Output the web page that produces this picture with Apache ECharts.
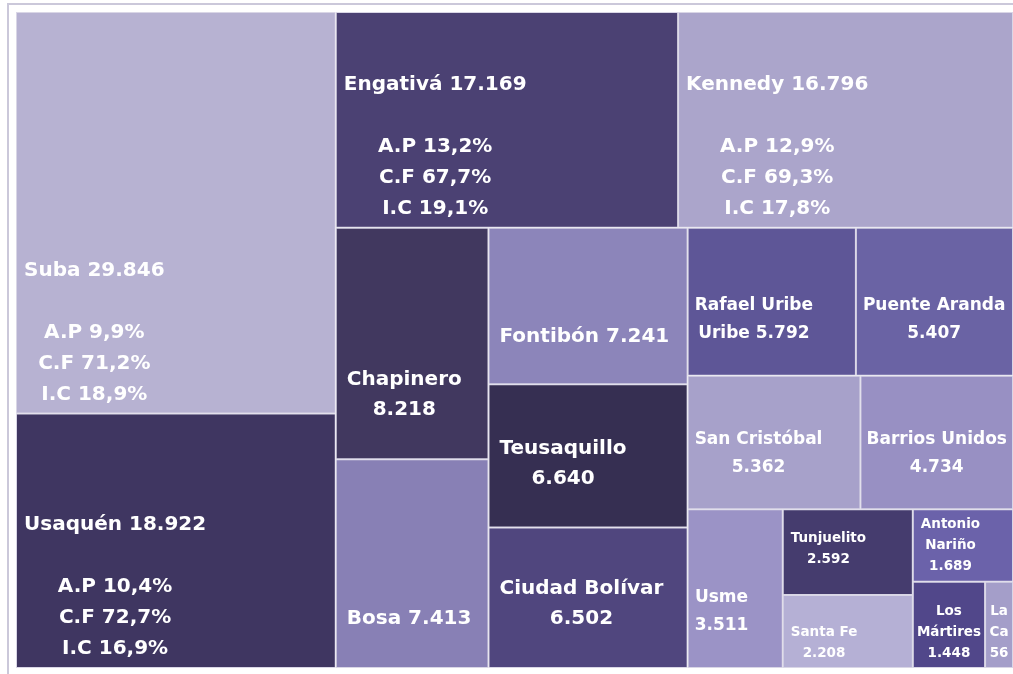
<!DOCTYPE html>
<html>
<head>
<meta charset="utf-8">
<title>Localidades</title>
<script src="https://cdn.jsdelivr.net/npm/echarts@6/dist/echarts.min.js"></script>
<style>
  html, body { margin: 0; padding: 0; background: #fff; }
  #chart { width: 1013px; height: 674px; }
</style>
</head>
<body>
<div id="chart"></div>
<script>
// Localidades y total por localidad
const localidades = ['Suba', 'Usaquén', 'Engativá', 'Kennedy', 'Chapinero', 'Bosa', 'Fontibón',
  'Teusaquillo', 'Ciudad Bolívar', 'Rafael Uribe Uribe', 'Puente Aranda', 'San Cristóbal',
  'Barrios Unidos', 'Usme', 'Tunjuelito', 'Santa Fe', 'Antonio Nariño', 'Los Mártires', 'La Candelaria']
const totales = [29846, 18922, 17169, 16796, 8218, 7413, 7241, 6640, 6502, 5792, 5407, 5362,
  4734, 3511, 2592, 2208, 1689, 1448, 560]

// Detalle A.P / C.F / I.C (solo las cuatro mayores)
const detalleLocalidades = ['Suba', 'Usaquén', 'Engativá', 'Kennedy']
const pctAP = [9.9, 10.4, 13.2, 12.9]
const pctCF = [71.2, 72.7, 67.7, 69.3]
const pctIC = [18.9, 16.9, 19.1, 17.8]

/** Colores de cada recuadro */
const colores = {
  'Suba': '#b7b2d2', 'Usaquén': '#3f3661', 'Engativá': '#4b4173', 'Kennedy': '#aba5cb',
  'Chapinero': '#41385f', 'Bosa': '#8880b5', 'Fontibón': '#8c85ba', 'Teusaquillo': '#362f52',
  'Ciudad Bolívar': '#50467e', 'Rafael Uribe Uribe': '#5e5697', 'Puente Aranda': '#6a63a4',
  'San Cristóbal': '#a7a1ca', 'Barrios Unidos': '#9890c3', 'Usme': '#9b93c6',
  'Tunjuelito': '#453c6e', 'Santa Fe': '#b5b0d5', 'Antonio Nariño': '#6b62aa',
  'Los Mártires': '#51478a', 'La Candelaria': '#a49ec9'
}

/** Agrupación (índices) para que el squarify reparta los bloques como en el original */
const bloques = [0, 1, [[2, 3], [[4, 5], [[6, 7, 8], [9, 10, [[11, 12], [13, 14, 15, 16, 17, 18]]]]]]]

/** Cortes de línea de cada etiqueta (%v = total) */
const plantillas = {
  'Chapinero': 'Chapinero\n%v', 'Bosa': 'Bosa %v', 'Fontibón': 'Fontibón %v',
  'Teusaquillo': 'Teusaquillo\n%v', 'Ciudad Bolívar': 'Ciudad Bolívar\n%v',
  'Rafael Uribe Uribe': 'Rafael Uribe\nUribe %v', 'Puente Aranda': 'Puente Aranda\n%v',
  'San Cristóbal': 'San Cristóbal\n%v', 'Barrios Unidos': 'Barrios Unidos\n%v', 'Usme': 'Usme\n%v',
  'Tunjuelito': 'Tunjuelito\n%v', 'Santa Fe': 'Santa Fe\n%v', 'Antonio Nariño': 'Antonio\nNariño\n%v',
  'Los Mártires': 'Los\nMártires\n%v', 'La Candelaria': 'La\nCandelaria\n%v'
}

/** Tamaños de etiqueta */
const clases = {
  g: { size: 20, lh: 31, pad: 7, bottom: 18 },
  m: { size: 20, lh: 30, pad: 10, bottom: 48 },
  p: { size: 17, lh: 28, pad: 6, bottom: 41 },
  xs: { size: 13.5, lh: 21, pad: 7, bottom: 14 }
}
const claseDe = name => {
  if (detalleLocalidades.includes(name)) return 'g'
  if (['Chapinero', 'Bosa', 'Fontibón', 'Teusaquillo', 'Ciudad Bolívar'].includes(name)) return 'm'
  if (['Rafael Uribe Uribe', 'Puente Aranda', 'San Cristóbal', 'Barrios Unidos', 'Usme'].includes(name)) return 'p'
  return 'xs'
}
const ajusteInferior = { 'Tunjuelito': 34, 'Fontibón': 46 }

const FUENTE = 'DejaVu Sans'
const ctx = document.createElement('canvas').getContext('2d')
function anchoTexto(txt, size) {
  ctx.font = `bold ${size}px ${FUENTE}`
  return ctx.measureText(txt).width
}

const miles = v => String(v).replace(/\B(?=(\d{3})+(?!\d))/g, '.')
const pct = v => v.toFixed(1).replace('.', ',') + '%'

/** Texto de etiqueta por nombre, e info de posición por texto */
const textos = {}
const infoEtiqueta = {}
localidades.forEach((name, i) => {
  const c = claseDe(name)
  let lineas
  const d = detalleLocalidades.indexOf(name)
  if (d >= 0) {
    lineas = [name + ' ' + miles(totales[i]), ' ', 'A.P ' + pct(pctAP[d]), 'C.F ' + pct(pctCF[d]), 'I.C ' + pct(pctIC[d])]
  } else {
    lineas = plantillas[name].replace('%v', miles(totales[i])).split('\n')
  }
  const txt = lineas.map(l => `{${c}|${l}}`).join('\n')
  textos[name] = txt
  const k = clases[c]
  infoEtiqueta[txt] = {
    n: lineas.length,
    lh: k.lh,
    pad: k.pad,
    bottom: ajusteInferior[name] != null ? ajusteInferior[name] : k.bottom,
    ancho: Math.max(...lineas.map(l => anchoTexto(l, k.size)))
  }
})

function construir(b) {
  if (Array.isArray(b)) return { name: '', children: b.map(construir) }
  const name = localidades[b]
  return {
    name,
    value: totales[b],
    itemStyle: { color: colores[name], borderColor: '#d9d6e6', borderWidth: 1 }
  }
}

const rich = {}
Object.keys(clases).forEach(c => {
  rich[c] = {
    fontSize: clases[c].size, lineHeight: clases[c].lh, fontWeight: 'bold',
    fontFamily: FUENTE, color: '#ffffff', align: 'center', textBorderWidth: 0
  }
})

const myChart = echarts.init(document.getElementById('chart'))
myChart.setOption({
  animation: false,
  graphic: [{
    type: 'rect',
    silent: true,
    shape: { x: 8, y: 4, width: 1020, height: 690 },
    style: { fill: 'none', stroke: '#cbc8da', lineWidth: 2 }
  }],
  series: [{
    type: 'treemap',
    left: 16, top: 12, right: 0, bottom: 6,
    roam: false,
    nodeClick: false,
    breadcrumb: { show: false },
    sort: false,
    squareRatio: 1.15,
    itemStyle: { borderWidth: 0, gapWidth: 0 },
    label: {
      show: true,
      color: '#ffffff',
      padding: 0,
      lineHeight: 31,
      fontFamily: FUENTE,
      fontWeight: 'bold',
      textBorderWidth: 0,
      formatter: p => textos[p.name] || '',
      rich
    },
    labelLayout: p => {
      const info = infoEtiqueta[p.text]
      if (!info) return {}
      const r = p.rect
      const w = Math.max(0, Math.min(info.ancho, r.width - 2 * info.pad))
      return {
        x: r.x + info.pad + w / 2,
        y: r.y + r.height - info.bottom - (info.n - 0.5) * info.lh,
        align: 'center',
        verticalAlign: 'top'
      }
    },
    data: construir(bloques).children
  }]
})
</script>
</body>
</html>
